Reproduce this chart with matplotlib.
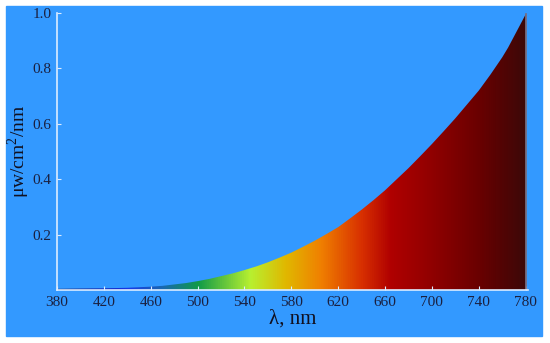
import matplotlib
matplotlib.use('Agg')
import matplotlib.pyplot as plt
import numpy as np
from matplotlib.colors import LinearSegmentedColormap
from matplotlib.patches import Rectangle

# spectrum
wl = [380, 400, 420, 440, 460, 470, 480, 490, 500, 510, 520, 530, 540, 550,
      560, 570, 580, 590, 600, 610, 620, 630, 640, 650, 660, 670, 680, 690,
      700, 710, 720, 730, 740, 750, 760, 765, 770, 775, 780]
irr = [0.004, 0.005, 0.006, 0.008, 0.012, 0.015, 0.020, 0.025, 0.032, 0.040,
       0.050, 0.060, 0.072, 0.085, 0.100, 0.117, 0.135, 0.156, 0.178, 0.202,
       0.227, 0.258, 0.290, 0.324, 0.360, 0.400, 0.440, 0.483, 0.527, 0.573,
       0.620, 0.670, 0.720, 0.778, 0.840, 0.875, 0.915, 0.955, 0.995]
xticks = [380, 420, 460, 500, 540, 580, 620, 660, 700, 740, 780]
yticks = [0.2, 0.4, 0.6, 0.8, 1.0]

# colour stops along wavelength
stop_wl = [380, 415, 440, 470, 500, 545, 575, 605, 640, 665, 700, 740, 780]
stop_col = ['#0a0a48', '#1020b0', '#1838e8', '#1868b0', '#109a48', '#b8f030',
            '#e0b800', '#f08000', '#d83000', '#b00000', '#900000', '#6a0000',
            '#3c0808']
bg = '#3399ff'

plt.rcParams['font.family'] = 'Liberation Serif'
plt.rcParams['mathtext.fontset'] = 'custom'
plt.rcParams['mathtext.rm'] = 'Liberation Serif'

fig = plt.figure(figsize=(5.5, 3.43), dpi=100)
fig.patch.set_facecolor('white')
fig.patches.append(Rectangle((6/550, 7/343), 536/550, 330/343,
                             transform=fig.transFigure, color=bg, zorder=-5))

ax = fig.add_axes([57/550, 53/343, 471/550, 277/343])
ax.set_facecolor(bg)

pos = [(w - 380) / 400 for w in stop_wl]
cmap = LinearSegmentedColormap.from_list('spec', list(zip(pos, stop_col)))
grad = np.linspace(0, 1, 512).reshape(1, -1)
im = ax.imshow(grad, cmap=cmap, aspect='auto', extent=[380, 780, 0, 1],
               origin='lower', zorder=1)
poly = ax.fill_between(wl, 0, irr, facecolor='none', edgecolor='none')
clip = poly.get_paths()[0]
im.set_clip_path(clip, transform=ax.transData)
ax.plot([780, 780], [0, irr[-1]], color='#7a6a78', lw=1.2, zorder=2)

ax.set_xlim(380, 782)
ax.set_ylim(0, 1.0)
ax.set_xticks(xticks)
ax.set_yticks(yticks)
ax.set_yticklabels(['0.2', '0.4', '0.6', '0.8', '1.0'])

for s in ['top', 'right']:
    ax.spines[s].set_visible(False)
for s in ['left', 'bottom']:
    ax.spines[s].set_color('#dcecff')
    ax.spines[s].set_linewidth(1.2)
    ax.spines[s].set_zorder(3)

ax.tick_params(direction='in', length=3, color='#dcecff', labelcolor='#1a2040',
               labelsize=11, pad=4)

ax.set_xlabel('λ, nm', fontsize=15, color='#101020', labelpad=1)
ax.set_ylabel('μw/cm$^2$/nm', fontsize=14, color='#101020')
ax.yaxis.set_label_coords(-0.053, 0.5)

fig.savefig('out.png', dpi=100, facecolor='white')
